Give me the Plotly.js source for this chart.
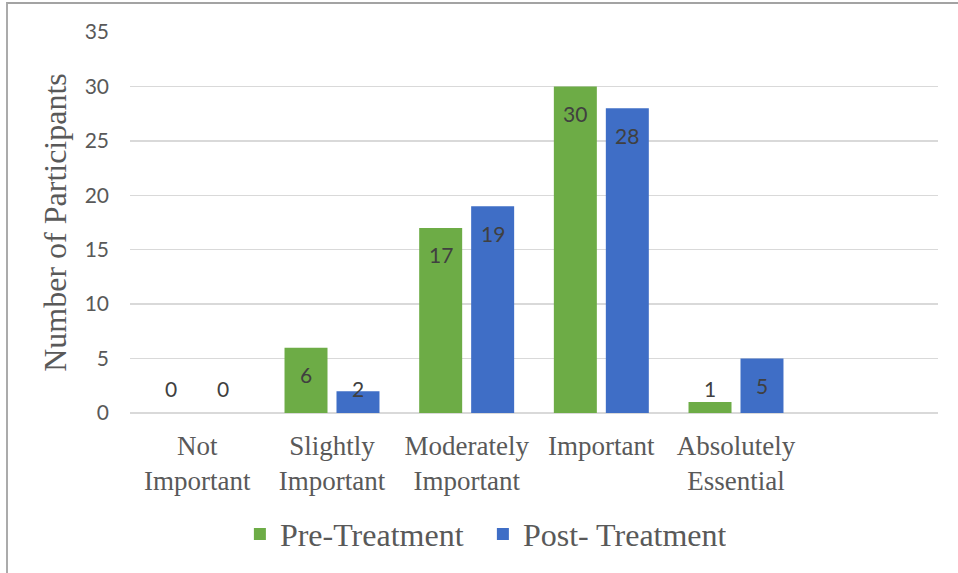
<!DOCTYPE html>
<html>
<head>
<meta charset="utf-8">
<script src="https://cdn.plot.ly/plotly-3.0.1.min.js"></script>
<style>
  html, body { margin: 0; padding: 0; background: #ffffff; overflow: hidden; }
  #chart { width: 958px; height: 573px; }
  #frame {
    position: absolute; left: 6px; top: 2px; width: 2000px; height: 2000px;
    border-left: 2px solid #ababab; border-top: 2px solid #a3a3a3;
    pointer-events: none;
  }
</style>
</head>
<body>
<div id="chart"></div>
<div id="frame"></div>
<script>
// Importance ratings, number of participants per response
const categories = ['Not Important', 'Slightly Important', 'Moderately Important', 'Important', 'Absolutely Essential'];
const tickLabels = ['Not<br>Important', 'Slightly<br>Important', 'Moderately<br>Important', 'Important', 'Absolutely<br>Essential'];
const preTreatment = [0, 6, 17, 30, 1];
const postTreatment = [0, 2, 19, 28, 5];
const seriesNames = ['Pre-Treatment', 'Post- Treatment'];
const yTicks = [0, 5, 10, 15, 20, 25, 30, 35];

const greenBar = '#6dac46';
const blueBar = '#3f6ec6';
const labelColor = '#404040';
const axisText = '#595959';

const idx = categories.map((_, i) => i);

const traces = [
  {
    type: 'bar', name: seriesNames[0], x: idx, y: preTreatment,
    marker: { color: greenBar }, hoverinfo: 'skip'
  },
  {
    type: 'bar', name: seriesNames[1], x: idx, y: postTreatment,
    marker: { color: blueBar }, hoverinfo: 'skip'
  }
];

// Value labels sit just inside the top of each bar; short bars keep them above the baseline
const barOffset = 0.193;
const minLabelY = 4.7;
const annotations = [];
[preTreatment, postTreatment].forEach((vals, s) => {
  vals.forEach((v, i) => {
    annotations.push({
      x: i + (s === 0 ? -barOffset : barOffset),
      y: Math.max(v, minLabelY),
      xref: 'x', yref: 'y',
      text: String(v),
      showarrow: false,
      yanchor: 'middle',
      yshift: -27,
      font: { family: 'Lato, "Open Sans", sans-serif', size: 21, color: labelColor }
    });
  });
});

const layout = {
  width: 958, height: 573,
  margin: { l: 130, r: 20, t: 32, b: 160 },
  paper_bgcolor: '#ffffff', plot_bgcolor: '#ffffff',
  barmode: 'group',
  bargap: 0.228,
  bargroupgap: 0.173,
  showlegend: true,
  legend: {
    orientation: 'h', x: 0.136, xanchor: 'left', y: -0.318, yanchor: 'middle',
    font: { family: '"Liberation Serif", "Times New Roman", serif', size: 32, color: axisText },
    itemwidth: 30, entrywidth: 198, entrywidthmode: 'pixels', traceorder: 'normal'
  },
  xaxis: {
    type: 'linear',
    range: [-0.5, 5.5],
    tickvals: idx, ticktext: tickLabels,
    showgrid: false, zeroline: false, showline: false,
    ticks: '', ticklabelstandoff: 14,
    tickfont: { family: '"Liberation Serif", "Times New Roman", serif', size: 27, color: axisText },
    fixedrange: true
  },
  yaxis: {
    range: [0, 35], tickvals: yTicks,
    showgrid: true, gridcolor: '#d9d9d9', gridwidth: 1.5,
    zeroline: true, zerolinecolor: '#d9d9d9', zerolinewidth: 2,
    showline: false, ticks: '', ticklabelstandoff: 20,
    tickfont: { family: 'Lato, "Open Sans", sans-serif', size: 21, color: axisText },
    title: {
      text: 'Number of Participants', standoff: 8,
      font: { family: '"Liberation Serif", "Times New Roman", serif', size: 32, color: axisText }
    },
    fixedrange: true
  },
  annotations: annotations
};

Plotly.newPlot('chart', traces, layout, { displayModeBar: false, staticPlot: true });
</script>
</body>
</html>
